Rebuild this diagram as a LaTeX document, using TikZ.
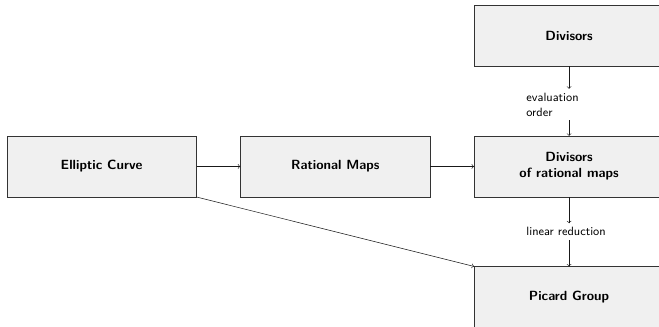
\documentclass[tikz,border=0pt]{standalone}
\usepackage{tikz}
\usetikzlibrary{positioning}

\begin{document}
\begin{tikzpicture}[
  node distance=1.83cm and 1.15cm,
  box/.style={draw=black!80,fill=gray!12,minimum width=5cm,minimum height=1.6cm,
    align=center,font=\sffamily\bfseries},
  lbl/.style={font=\sffamily\small,text width=2.25cm,align=left,inner sep=3pt},
  link/.style={->,draw=black!90}]
\useasboundingbox (-2.68,-4.23) rectangle (14.70,4.39);
\node[box] (ell) {Elliptic Curve};
\node[box,right=of ell] (rat) {Rational Maps};
\node[box,right=of rat] (divrat) {Divisors\\of rational maps};
\node[box,above=of divrat] (div) {Divisors};
\node[box,below=of divrat] (pic) {Picard Group};
\path (div) -- node[lbl,pos=0.55] (eval) {evaluation\\order} (divrat);
\path (divrat) -- node[lbl] (lin) {linear reduction} (pic);
\draw[link] (ell) -- (rat);
\draw[link] (rat) -- (divrat);
\draw[link] (div) -- (eval);
\draw[link] (eval) -- (divrat);
\draw[link] (divrat) -- (lin);
\draw[link] (lin) -- (pic);
\draw[link] (ell.south east) -- (pic.north west);
\end{tikzpicture}
\end{document}
